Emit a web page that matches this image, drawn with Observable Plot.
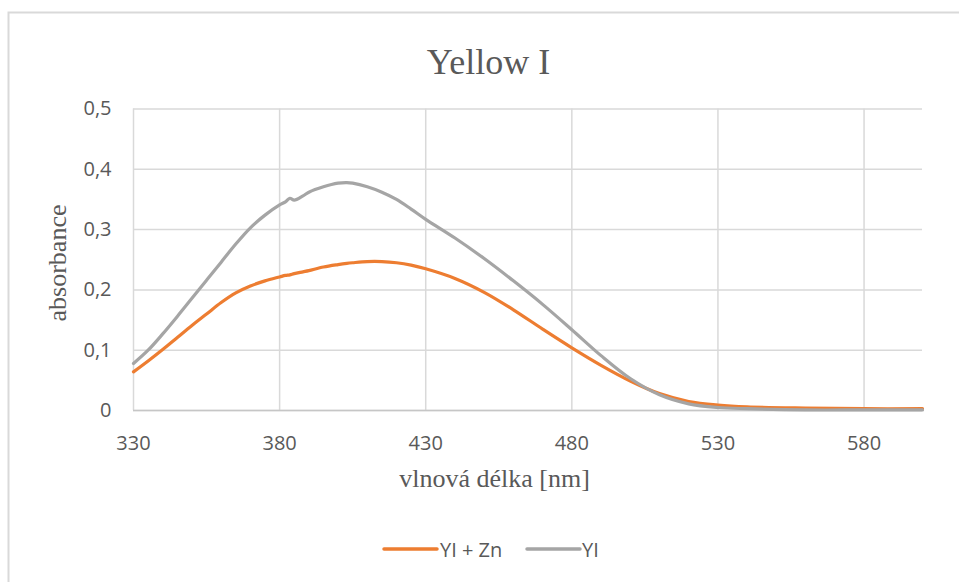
<!DOCTYPE html>
<html>
<head>
<meta charset="utf-8">
<script src="https://cdn.jsdelivr.net/npm/d3@7"></script>
<script src="https://cdn.jsdelivr.net/npm/@observablehq/plot@0.6"></script>
<style>
  html, body { margin: 0; padding: 0; background: #fff; overflow: hidden; }
  #chart { width: 959px; height: 582px; position: relative; }
</style>
</head>
<body>
<div id="chart"></div>
<script>
// Absorption spectra of Yellow I, with and without zinc
const wavelengths = [330, 335, 340, 345, 350, 355, 360, 365, 370, 375, 380, 382, 383.5, 385, 388, 390, 395, 400, 403, 405, 410, 415, 420, 425, 430, 440, 450, 460, 470, 480, 490, 500, 510, 520, 530, 540, 560, 580, 600];
const absYiZn = [0.064, 0.082, 0.101, 0.121, 0.141, 0.160, 0.179, 0.195, 0.2065, 0.215, 0.2215, 0.224, 0.225, 0.227, 0.230, 0.232, 0.238, 0.242, 0.244, 0.245, 0.247, 0.247, 0.245, 0.241, 0.235, 0.219, 0.196, 0.167, 0.135, 0.104, 0.075, 0.049, 0.028, 0.015, 0.009, 0.006, 0.004, 0.003, 0.003];
const absYi   = [0.078, 0.100, 0.127, 0.156, 0.186, 0.216, 0.246, 0.276, 0.303, 0.324, 0.341, 0.346, 0.352, 0.349, 0.356, 0.362, 0.371, 0.377, 0.378, 0.377, 0.371, 0.362, 0.350, 0.334, 0.317, 0.286, 0.252, 0.215, 0.176, 0.134, 0.091, 0.053, 0.026, 0.011, 0.005, 0.003, 0.001, 0.001, 0.001];

const seriesNames  = ["YI + Zn", "YI"];
const seriesColors = ["#ED7D31", "#A5A5A5"];
const xTicks = [330, 380, 430, 480, 530, 580];
const yTicks = [0, 0.1, 0.2, 0.3, 0.4, 0.5];

const titleText = "Yellow I";
const xTitle = "vlnová délka [nm]";
const yTitle = "absorbance";

// Long-format table for the line marks
const rows = [];
[absYiZn, absYi].forEach((vals, i) => {
  vals.forEach((v, j) => rows.push({ series: seriesNames[i], wl: wavelengths[j], abs: v }));
});

const textGray = "#595959";
const gridGray = "#d9d9d9";

const svg = Plot.plot({
  width: 959,
  height: 582,
  marginLeft: 133,
  marginRight: 37,
  marginTop: 108.5,
  marginBottom: 172,
  style: { fontFamily: "'Open Sans', sans-serif", fontSize: "20px", color: textGray, background: "#fff", overflow: "hidden" },
  x: { domain: [330, 600], ticks: xTicks, tickSize: 0, tickPadding: 25, label: null },
  y: { domain: [0, 0.5], ticks: yTicks, tickSize: 0, tickPadding: 22, label: null,
       tickFormat: d => String(+d.toFixed(1)).replace(".", ",") },
  color: { domain: seriesNames, range: seriesColors },
  marks: [
    Plot.gridY(yTicks, { stroke: gridGray, strokeOpacity: 1, strokeWidth: 1.5 }),
    Plot.gridX(xTicks, { stroke: gridGray, strokeOpacity: 1, strokeWidth: 1.5 }),
    Plot.ruleY([0], { stroke: "#c6c6c6", strokeWidth: 1.5 }),
    Plot.line(rows, { x: "wl", y: "abs", z: "series", stroke: "series", strokeWidth: 3.2,
                      curve: "catmull-rom", strokeLinecap: "round", strokeLinejoin: "round" })
  ]
});

const root = d3.select(svg);

// Chart frame
root.append("rect")
  .attr("x", 8.5).attr("y", 12.5).attr("width", 1000).attr("height", 1000)
  .attr("fill", "none").attr("stroke", gridGray).attr("stroke-width", 2);

const serif = "'Liberation Serif', 'Times New Roman', serif";

// Title
root.append("text")
  .attr("x", 488.5).attr("y", 73.5)
  .attr("text-anchor", "middle")
  .attr("font-family", serif).attr("font-size", 36)
  .attr("fill", textGray)
  .text(titleText);

// Axis titles
root.append("text")
  .attr("x", 494.5).attr("y", 487)
  .attr("text-anchor", "middle")
  .attr("font-family", serif).attr("font-size", 26)
  .attr("fill", textGray)
  .text(xTitle);

root.append("text")
  .attr("transform", "translate(66,263) rotate(-90)")
  .attr("text-anchor", "middle")
  .attr("font-family", serif).attr("font-size", 26)
  .attr("fill", textGray)
  .text(yTitle);

// Legend
const legend = root.append("g")
  .attr("font-family", "'Open Sans', sans-serif")
  .attr("font-size", 20)
  .attr("fill", textGray)
  .attr("text-anchor", "start");
const legendItems = [
  { x0: 384, x1: 437, tx: 440 },
  { x0: 527, x1: 580, tx: 582 }
];
legendItems.forEach((it, i) => {
  legend.append("line")
    .attr("x1", it.x0).attr("x2", it.x1).attr("y1", 549).attr("y2", 549)
    .attr("stroke", seriesColors[i]).attr("stroke-width", 3.5).attr("stroke-linecap", "round");
  legend.append("text")
    .attr("x", it.tx).attr("y", 556.5)
    .attr("text-anchor", "start")
    .text(seriesNames[i]);
});

document.getElementById("chart").appendChild(svg);
</script>
</body>
</html>
